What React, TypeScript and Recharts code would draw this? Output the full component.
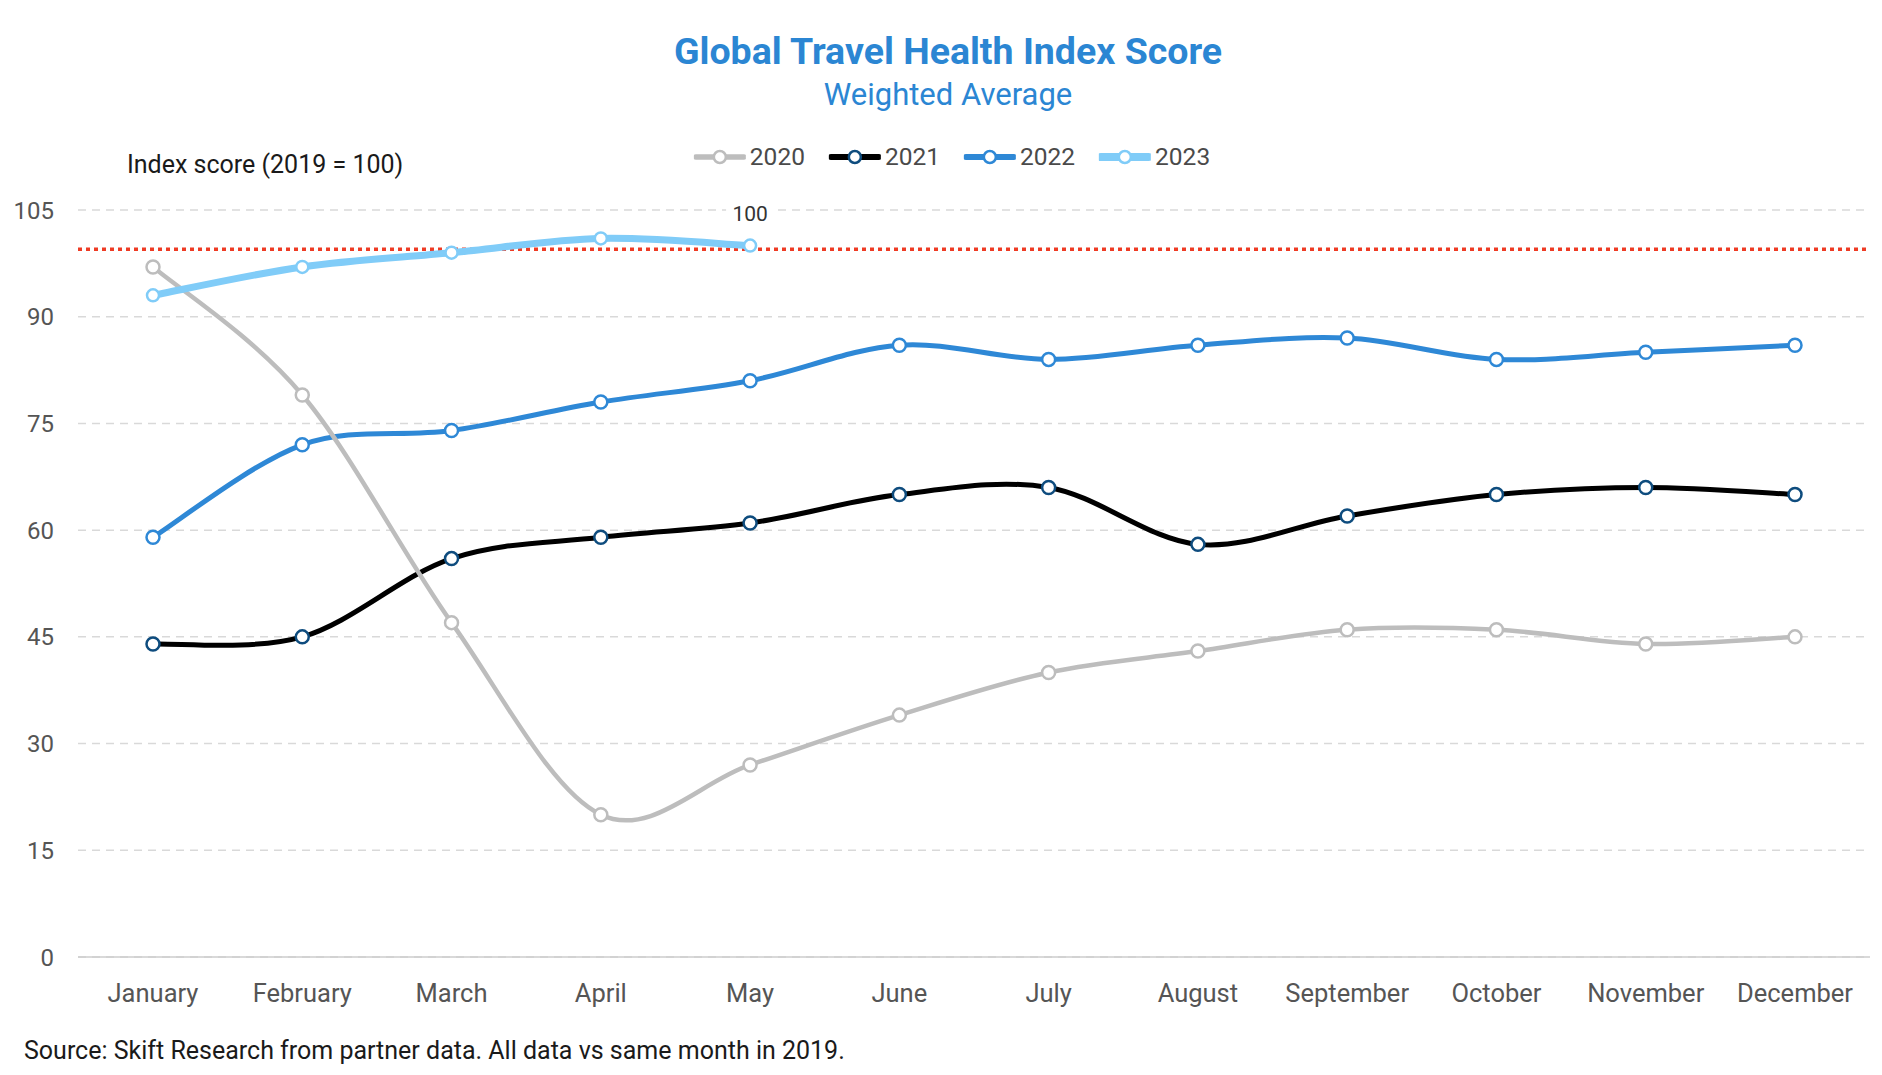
import React from 'react';
import { LineChart, Line, XAxis, YAxis, CartesianGrid, ReferenceLine, LabelList } from 'recharts';

const months = ['January', 'February', 'March', 'April', 'May', 'June', 'July', 'August', 'September', 'October', 'November', 'December'];
const values2020 = [97, 79, 47, 20, 27, 34, 40, 43, 46, 46, 44, 45];
const values2021 = [44, 45, 56, 59, 61, 65, 66, 58, 62, 65, 66, 65];
const values2022 = [59, 72, 74, 78, 81, 86, 84, 86, 87, 84, 85, 86];
const values2023: (number | null)[] = [93, 97, 99, 101, 100, null, null, null, null, null, null, null];
const yTicks = [0, 15, 30, 45, 60, 75, 90, 105];
const baselineValue = 99.5;

const data = months.map((m, i) => ({
  month: m,
  y2020: values2020[i],
  y2021: values2021[i],
  y2022: values2022[i],
  y2023: values2023[i],
}));

const FONT = 'Roboto, "Liberation Sans", Arial, sans-serif';

// Catmull-Rom style smooth curve through the points
const smoothCurve: any = (context: any) => {
  let pts: number[][] = [];
  return {
    areaStart() {},
    areaEnd() {},
    lineStart() {
      pts = [];
    },
    point(x: number, y: number) {
      pts.push([+x, +y]);
    },
    lineEnd() {
      const n = pts.length;
      if (!n) return;
      context.moveTo(pts[0][0], pts[0][1]);
      if (n === 1) return;
      const k = 1 / 6;
      for (let i = 0; i < n - 1; i++) {
        const p0 = pts[i - 1] || pts[i];
        const p1 = pts[i];
        const p2 = pts[i + 1];
        const p3 = pts[i + 2] || pts[i + 1];
        const c1x = p1[0] + (p2[0] - p0[0]) * k;
        const c1y = p1[1] + (p2[1] - p0[1]) * k;
        const c2x = p2[0] - (p3[0] - p1[0]) * k;
        const c2y = p2[1] - (p3[1] - p1[1]) * k;
        context.bezierCurveTo(c1x, c1y, c2x, c2y, p2[0], p2[1]);
      }
    },
  };
};

const series = [
  { key: 'y2020', name: '2020', color: '#bdbdbd', dotStroke: '#bdbdbd', width: 4.5 },
  { key: 'y2021', name: '2021', color: '#000000', dotStroke: '#0e4c7e', width: 5 },
  { key: 'y2022', name: '2022', color: '#2e88d6', dotStroke: '#2e88d6', width: 5 },
  { key: 'y2023', name: '2023', color: '#80ccf8', dotStroke: '#80ccf8', width: 7 },
];

const drawOrder = ['y2021', 'y2022', 'y2020', 'y2023'];

const LastLabel = (props: any) => {
  const { x, y, value, index } = props;
  if (index !== 4 || value == null) return null;
  return (
    <g>
      <rect x={x - 24} y={y - 45} width={48} height={26} fill="#ffffff" />
      <text x={x} y={y - 32} textAnchor="middle" dominantBaseline="central" fontSize={21} fill="#333" fontFamily={FONT}>
        {value}
      </text>
    </g>
  );
};

const LegendSymbol = ({ color, stroke, width }: any) => (
  <svg width={52} height={16} style={{ display: 'block' }}>
    <line x1={2} y1={8} x2={50} y2={8} stroke={color} strokeWidth={width + 1} strokeLinecap="round" />
    <circle cx={26} cy={8} r={6} fill="#fff" stroke={stroke} strokeWidth={2.5} />
  </svg>
);

export default function App() {
  return (
    <div style={{ position: 'absolute', left: 0, top: 0, width: 1882, height: 1075, background: '#fff', fontFamily: FONT, overflow: 'hidden' }}>
      <div style={{ position: 'absolute', left: 948, top: 33, transform: 'translateX(-50%)', whiteSpace: 'nowrap', fontSize: 37.5, lineHeight: '37.5px', fontWeight: 700, color: '#2b86d3' }}>
        Global Travel Health Index Score
      </div>
      <div style={{ position: 'absolute', left: 948, top: 79, transform: 'translateX(-50%)', whiteSpace: 'nowrap', fontSize: 31, lineHeight: '31px', color: '#2b86d3' }}>
        Weighted Average
      </div>
      <div style={{ position: 'absolute', left: 952, top: 145, transform: 'translateX(-50%)', display: 'flex', alignItems: 'center', whiteSpace: 'nowrap' }}>
        {series.map((s, i) => (
          <div key={s.key} style={{ display: 'flex', alignItems: 'center', marginLeft: i ? 24 : 0 }}>
            <LegendSymbol color={s.color} stroke={s.dotStroke} width={s.width} />
            <span style={{ marginLeft: 4, fontSize: 24.5, lineHeight: '24px', color: '#4a4a4a' }}>{s.name}</span>
          </div>
        ))}
      </div>
      <div style={{ position: 'absolute', left: 127, top: 152, fontSize: 25, lineHeight: '25px', color: '#1a1a1a', whiteSpace: 'nowrap' }}>
        Index score (2019 = 100)
      </div>
      <div style={{ position: 'absolute', left: 24, top: 1038, fontSize: 25, lineHeight: '25px', color: '#1a1a1a', whiteSpace: 'nowrap' }}>
        Source: Skift Research from partner data. All data vs same month in 2019.
      </div>
      <div style={{ position: 'absolute', left: 0, top: 0 }}>
        <LineChart width={1882} height={1075} data={data} margin={{ top: 210, right: 12, bottom: 58, left: 0 }}>
          <CartesianGrid vertical={false} stroke="#d9d9d9" strokeWidth={1.5} strokeDasharray="8 6" />
          <XAxis
            dataKey="month"
            interval={0}
            height={60}
            padding={{ left: 75, right: 75 }}
            tickLine={false}
            tickSize={0}
            tickMargin={27}
            axisLine={{ stroke: '#cccccc', strokeWidth: 1.5 }}
            tick={{ fill: '#555555', fontSize: 25.5, fontFamily: FONT }}
          />
          <YAxis
            domain={[0, 105]}
            ticks={yTicks}
            width={78}
            axisLine={false}
            tickLine={false}
            tickSize={0}
            tickMargin={24}
            tick={{ fill: '#555555', fontSize: 24, fontFamily: FONT }}
          />
          <ReferenceLine y={baselineValue} stroke="#ee3b24" strokeWidth={3.5} strokeDasharray="4 4" ifOverflow="extendDomain" />
          {drawOrder.map((k) => {
            const s = series.find((x) => x.key === k)!;
            return (
              <Line
                key={s.key}
                dataKey={s.key}
                name={s.name}
                type={smoothCurve}
                stroke={s.color}
                strokeWidth={s.width}
                dot={{ r: s.key === 'y2023' ? 6 : 6.5, fill: '#ffffff', stroke: s.dotStroke, strokeWidth: 2.5 }}
                activeDot={false}
                isAnimationActive={false}
                connectNulls={false}
              >
                {s.key === 'y2023' ? <LabelList dataKey="y2023" content={<LastLabel />} /> : null}
              </Line>
            );
          })}
        </LineChart>
      </div>
    </div>
  );
}
